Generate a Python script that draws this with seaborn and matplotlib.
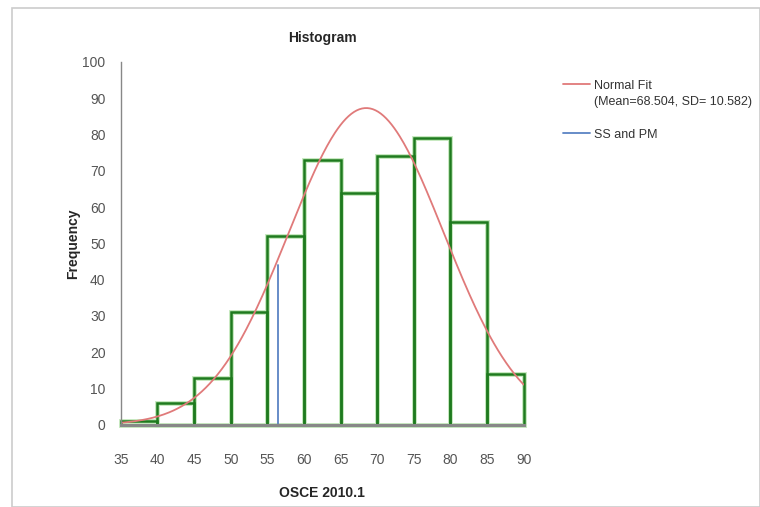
import numpy as np
import pandas as pd
import seaborn as sns
import matplotlib.pyplot as plt
import matplotlib.patches as patches
from matplotlib.lines import Line2D

# bin edges and counts
bin_edges = [35, 40, 45, 50, 55, 60, 65, 70, 75, 80, 85, 90]
counts = [1, 6, 13, 31, 52, 73, 64, 74, 79, 56, 14]
fit_mean = 68.504
fit_sd = 10.582
ss_pm_x = 56.4
ss_pm_height = 44
x_ticks = list(range(35, 95, 5))
y_ticks = list(range(0, 110, 10))

df = pd.DataFrame({'mid': [(a + b) / 2 for a, b in zip(bin_edges[:-1], bin_edges[1:])],
                   'count': counts})

# normal fit scaled to the histogram (N * bin width * pdf)
n_total = sum(counts)
xs = np.linspace(35, 90, 300)
ys = n_total * 5 * np.exp(-0.5 * ((xs - fit_mean) / fit_sd) ** 2) / (fit_sd * np.sqrt(2 * np.pi))
fit_df = pd.DataFrame({'x': xs, 'y': ys})

sns.set_style('white')
plt.rcParams['font.family'] = ['Liberation Sans Narrow', 'Liberation Sans', 'DejaVu Sans']

fig = plt.figure(figsize=(7.6, 5.07), dpi=100)
ax = fig.add_axes([0.159, 0.162, 0.530, 0.716])

# light frame around the whole chart
fig.patches.append(patches.Rectangle((0.016, 0.0), 0.984, 0.984, transform=fig.transFigure,
                                     fill=False, edgecolor='#cccccc', linewidth=1.2))

# soft green halo under the bar outlines, then the dark outlines
sns.histplot(data=df, x='mid', weights='count', bins=bin_edges, color='white', alpha=1,
             edgecolor='#c4e8bd', linewidth=3.5, ax=ax)
sns.histplot(data=df, x='mid', weights='count', bins=bin_edges, fill=False, alpha=1,
             color='#1e7a1e', edgecolor='#1e7a1e', linewidth=1.8, ax=ax)
for p in ax.patches:
    p.set_clip_on(False)

sns.lineplot(data=fit_df, x='x', y='y', color='#e07a7a', linewidth=1.3, ax=ax)
ax.plot([ss_pm_x, ss_pm_x], [0, ss_pm_height], color='#5b84c4', linewidth=1.3)

ax.set_xlim(35, 90)
ax.set_ylim(0, 100)
ax.set_xticks(x_ticks)
ax.set_yticks(y_ticks)
ax.tick_params(axis='x', direction='out', length=4, pad=16, labelsize=10, colors='#555555')
ax.tick_params(axis='y', direction='out', length=3, pad=8, labelsize=10, colors='#555555')

ax.set_title('Histogram', fontsize=10, fontweight='bold', pad=14)
ax.set_xlabel('OSCE 2010.1', fontsize=10, fontweight='bold', labelpad=14)
ax.set_ylabel('Frequency', fontsize=10, fontweight='bold', labelpad=2)

sns.despine(ax=ax)
ax.spines['left'].set_color('#888888')
ax.spines['left'].set_linewidth(1.0)
ax.spines['bottom'].set_color('#888888')
ax.spines['bottom'].set_linewidth(2.2)
ax.spines['bottom'].set_zorder(5)

handles = [Line2D([], [], color='#e07a7a', linewidth=1.3),
           Line2D([], [], linewidth=0),
           Line2D([], [], linewidth=0),
           Line2D([], [], color='#5b84c4', linewidth=1.3)]
labels = ['Normal Fit', '(Mean=68.504, SD= 10.582)', '', 'SS and PM']
ax.legend(handles, labels, loc='upper left', bbox_to_anchor=(1.085, 0.965), frameon=False,
          fontsize=9, handlelength=2.2, handletextpad=0.3, labelspacing=0.35,
          labelcolor='#333333', borderaxespad=0)

fig.savefig('out.png', dpi=100)
